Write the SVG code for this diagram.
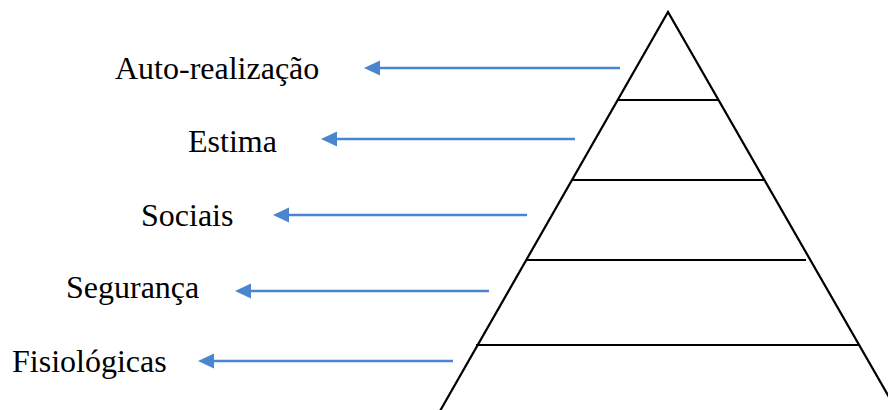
<svg xmlns="http://www.w3.org/2000/svg" width="888" height="410" viewBox="0 0 888 410">
<style>
.lbl{font-family:"Liberation Serif","Times New Roman",serif;font-size:32px;fill:#000}
.pyr{fill:none;stroke:#000;stroke-width:2.2;stroke-linecap:butt}
.arr{fill:none;stroke:#4a86d0;stroke-width:2.4}
</style>
<defs>
<marker id="ah" markerUnits="userSpaceOnUse" markerWidth="16" markerHeight="16" viewBox="0 -8 16 16" refX="2" refY="0" orient="auto">
<path d="M0,-7.5 L16,0 L0,7.5 Z" fill="#4a86d0"/>
</marker>
</defs>
<g id="pyramid">
<polyline class="pyr" points="440,411 668,12 897,411"/>
<line class="pyr" x1="617" y1="100" x2="718" y2="100"/>
<line class="pyr" x1="572" y1="180" x2="764" y2="180"/>
<line class="pyr" x1="526" y1="260" x2="806" y2="260"/>
<line class="pyr" x1="476" y1="345" x2="860" y2="345"/>
</g>
<g id="label-auto"><text class="lbl" x="115" y="79">Auto-realização</text></g>
<g id="label-estima"><text class="lbl" x="188" y="152">Estima</text></g>
<g id="label-sociais"><text class="lbl" x="141" y="226">Sociais</text></g>
<g id="label-seguranca"><text class="lbl" x="66" y="298">Segurança</text></g>
<g id="label-fisiologicas"><text class="lbl" x="12" y="372">Fisiológicas</text></g>
<g id="connectors">
<line class="arr" x1="620" y1="68" x2="378" y2="68" marker-end="url(#ah)"/>
<line class="arr" x1="575" y1="139" x2="335" y2="139" marker-end="url(#ah)"/>
<line class="arr" x1="527" y1="215" x2="287" y2="215" marker-end="url(#ah)"/>
<line class="arr" x1="489" y1="291" x2="249" y2="291" marker-end="url(#ah)"/>
<line class="arr" x1="453" y1="361" x2="212" y2="361" marker-end="url(#ah)"/>
</g>
</svg>
